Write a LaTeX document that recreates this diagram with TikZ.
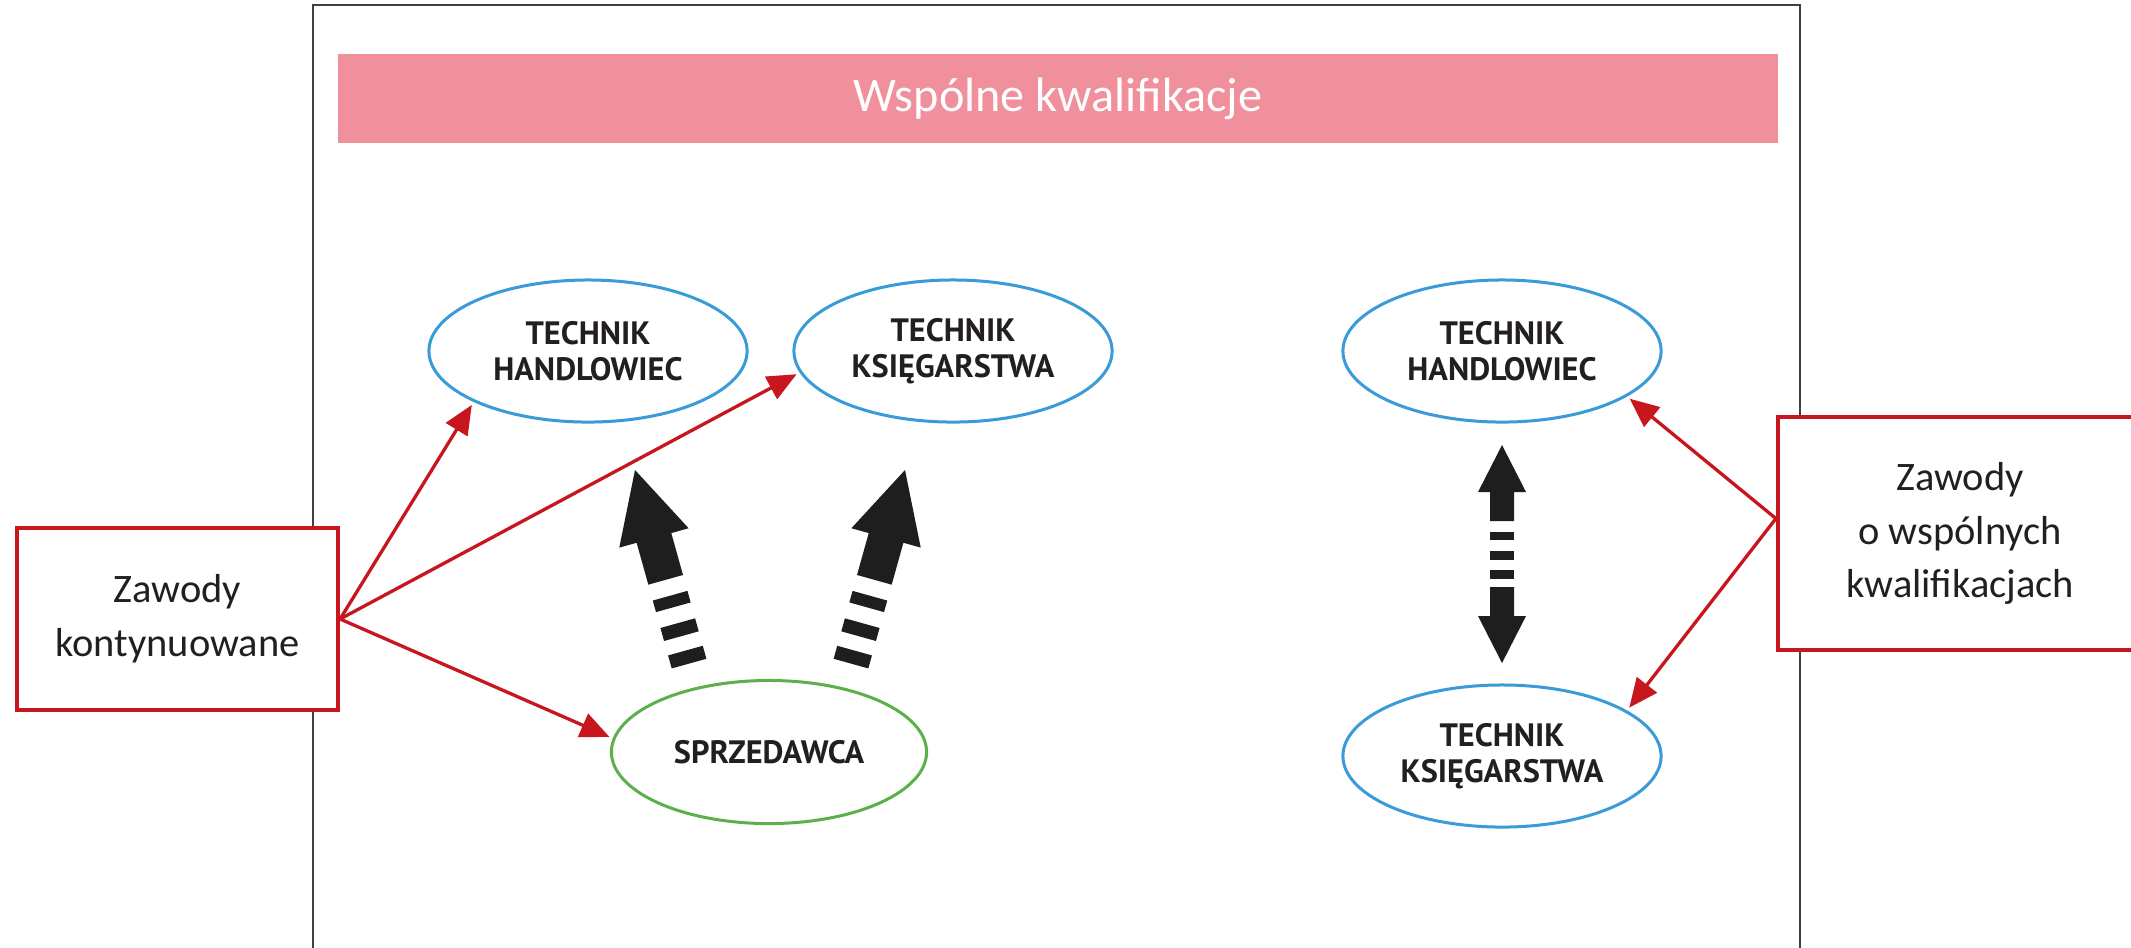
\documentclass[tikz,border=0pt]{standalone}
\usepackage{fontspec}
\setmainfont{Carlito}
\newfontfamily\ptsans{PT Sans}
\usetikzlibrary{arrows.meta,shapes.geometric}
\definecolor{framegray}{HTML}{404040}
\definecolor{bannerpink}{HTML}{F0909C}
\definecolor{ellblue}{HTML}{3A9BD9}
\definecolor{ellgreen}{HTML}{5BB04B}
\definecolor{boxred}{HTML}{C8161E}
\definecolor{arrowblack}{HTML}{1E1E1E}
\definecolor{txt}{HTML}{231F20}
\tikzset{
  ell/.style={ellipse, draw=#1, line width=0.03cm, inner sep=0pt,
    minimum width=3.18cm, minimum height=1.42cm, align=center, text=txt,
    font=\ptsans\bfseries\fontsize{9.2}{10.4}\selectfont},
  redbox/.style={draw=boxred, line width=0.04cm, fill=white, inner sep=0pt,
    align=center, text=txt, font=\fontsize{11.5}{15.3}\selectfont},
  redarrow/.style={draw=boxred, line width=0.033cm,
    -{Triangle[length=0.29cm,width=0.25cm]}, shorten >=1pt},
  fatarrow/.pic={
    \fill[arrowblack] (0,0) -- (24,47) -- (12,47) -- (12,76) -- (-12,76) -- (-12,47) -- (-24,47) -- cycle;
    \fill[arrowblack] (-12,87) rectangle (12,95);
    \fill[arrowblack] (-12,106) rectangle (12,115);
    \fill[arrowblack] (-12,125) rectangle (12,134);
  },
  fathead/.pic={
    \fill[arrowblack] (0,0) -- (24,47) -- (12,47) -- (12,76) -- (-12,76) -- (-12,47) -- (-24,47) -- cycle;
  }
}
\begin{document}
\begin{tikzpicture}[x=0.01cm,y=-0.01cm]
\useasboundingbox (0,0) rectangle (2131,947);
\begin{scope}
\clip (0,0) rectangle (2131,947);
\fill[white] (0,0) rectangle (2131,947);
% outer frame
\draw[framegray, line width=0.027cm] (313,970) -- (313,5) -- (1800,5) -- (1800,970);
% banner
\node[fill=bannerpink, minimum width=14.40cm, minimum height=0.89cm, inner sep=0pt,
  text=white, font=\fontsize{13.7}{16}\selectfont] (banner) at (1058,98.5) {Wspólne kwalifikacje};
% ellipses
\node[ell=ellblue] (TH1) at (588,351) {TECHNIK\\HANDLOWIEC};
\node[ell=ellblue] (TK1) at (953,351) {TECHNIK\\KSIĘGARSTWA};
\node[ell=ellgreen, minimum width=3.15cm, minimum height=1.43cm] (SPR) at (769,752) {SPRZEDAWCA};
\node[ell=ellblue] (TH2) at (1502,351) {TECHNIK\\HANDLOWIEC};
\node[ell=ellblue] (TK2) at (1502,756) {TECHNIK\\KSIĘGARSTWA};
% boxes
\node[redbox, minimum width=3.21cm, minimum height=1.82cm] (L) at (177.5,619) {Zawody\\kontynuowane};
\node[redbox, minimum width=3.64cm, minimum height=2.33cm] (R) at (1960,533.5) {Zawody\\o wspólnych\\kwalifikacjach};
\coordinate (rs) at ([yshift=0.15cm]R.west);
% red arrows
\draw[redarrow] (L.east) -- (TH1.204);
\draw[redarrow] (L.east) -- (TK1.188);
\draw[redarrow] (L.east) -- (SPR.175);
\draw[redarrow] (rs) -- (TH2.340);
\draw[redarrow] (rs) -- (TK2.20);
% thick black arrows
\pic[rotate=15.6, scale=1.5] at (635,470) {fatarrow};
\pic[rotate=-15.6, scale=1.5] at (905,470) {fatarrow};
\pic at (1502,445) {fatarrow};
\pic[rotate=180] at (1502,663) {fathead};
\end{scope}
\end{tikzpicture}
\end{document}
